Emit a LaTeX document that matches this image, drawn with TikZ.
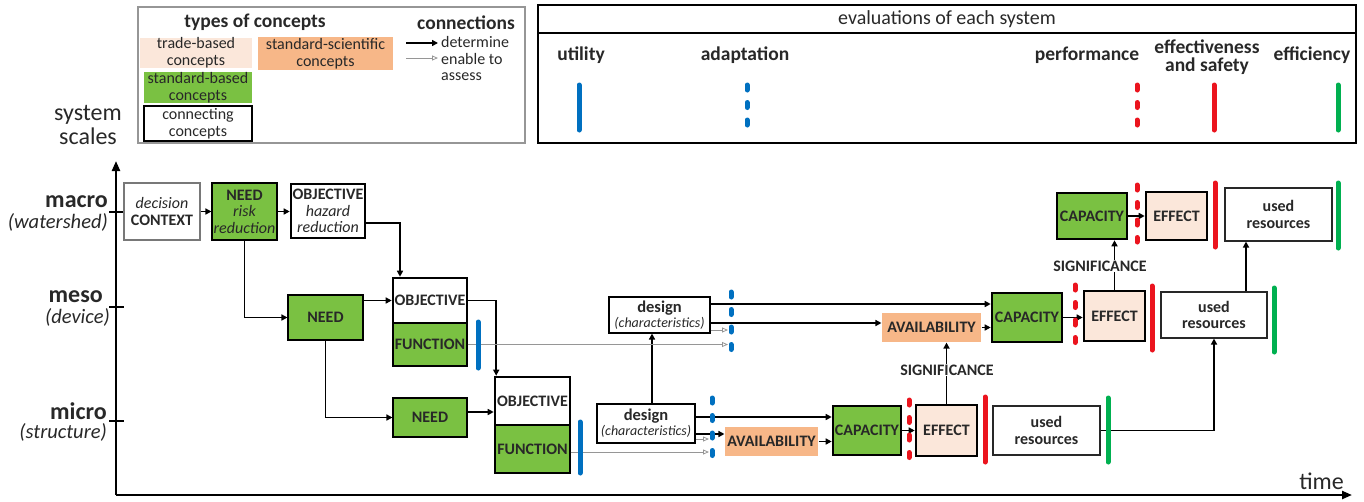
\documentclass[tikz,border=0pt]{standalone}
\usepackage{fontspec}
\setmainfont{Carlito}
\usetikzlibrary{arrows.meta,calc}
\definecolor{cgreen}{RGB}{122,193,66}
\definecolor{corange}{RGB}{247,183,136}
\definecolor{cpink}{RGB}{251,231,218}
\definecolor{cblue}{RGB}{0,112,192}
\definecolor{cred}{RGB}{235,20,30}
\definecolor{cgbar}{RGB}{0,176,80}
\definecolor{cgray}{RGB}{150,150,150}
\definecolor{ctext}{RGB}{40,40,40}
\begin{document}
\begin{tikzpicture}[x=1pt,y=-1pt,
  box/.style={draw=black, line width=1.1pt, inner sep=0pt, align=center, text=ctext,
    font=\fontsize{16}{16.5}\selectfont},
  thk/.style={line width=2.6pt},
  grn/.style={fill=cgreen},
  pnk/.style={fill=cpink},
  org/.style={fill=corange, draw=none},
  arr/.style={line width=1.8pt, -{Triangle[length=6pt,width=6pt]}},
  garr/.style={line width=0.8pt, draw=cgray, -{Triangle[open,length=6pt,width=5pt]}},
  axis/.style={line width=2.2pt, -{Triangle[length=10pt,width=8pt]}},
  sbar/.style={line width=5pt, line cap=round},
  dbar/.style={line width=5pt, line cap=round, dash pattern=on 5pt off 12.5pt},
  lgtxt/.style={inner sep=0pt, align=center, text=ctext, font=\fontsize{16}{17}\selectfont},
  sig/.style={fill=white, inner sep=1pt, text=ctext, font=\fontsize{16}{16}\selectfont\bfseries},
]
\useasboundingbox (0,0) rectangle (1364,501);

% ---------- legend ----------
\draw[draw=cgray, line width=1.3pt] (138,7) rectangle (525,143);
\node[lgtxt, font=\fontsize{19.5}{20}\selectfont\bfseries] (lgtitle) at (255,22) {types of concepts};
\node[lgtxt, font=\fontsize{19.5}{20}\selectfont\bfseries] (lgconn) at (466,23) {connections};
\node[lgtxt, fill=cpink, minimum width=112pt, minimum height=30pt] (lgtrade) at (196,53) {trade-based\\concepts};
\node[lgtxt, fill=cgreen, minimum width=108pt, minimum height=31pt] (lgstd) at (198,87.5) {standard-based\\concepts};
\node[lgtxt, draw=black, line width=1.1pt, minimum width=108pt, minimum height=35pt] (lgcon) at (198,123.5) {connecting\\concepts};
\node[lgtxt, fill=corange, minimum width=135pt, minimum height=33pt] (lgsci) at (325.5,53.5) {standard-scientific\\concepts};
\coordinate (la1) at (406,43);
\coordinate (la2) at (406,58);
\coordinate (la3) at (438,43);
\node[lgtxt, anchor=west, font=\fontsize{16}{15}\selectfont] (lgdet) at (441,42) {determine};
\node[lgtxt, anchor=west, align=left, font=\fontsize{16}{16.5}\selectfont] (lgena) at (441,67) {enable to\\assess};
\draw[arr] (la1) -- (la3);
\draw[garr] (la2) -- (la2 -| la3);

% ---------- evaluation box ----------
\draw[line width=1.3pt] (538,5) rectangle (1356,143);
\draw[line width=1.3pt] (538,33) -- (1356,33);
\node[lgtxt, font=\fontsize{20}{20}\selectfont] (evtitle) at (947,19) {evaluations of each system};
\tikzset{evl/.style={lgtxt, font=\fontsize{19.5}{18.5}\selectfont\bfseries}}
\node[evl] (evu) at (581,55) {utility};
\node[evl] (eva) at (745,55) {adaptation};
\node[evl] (evp) at (1087,55) {performance};
\node[evl] (eve) at (1207,57) {effectiveness\\and safety};
\node[evl] (evf) at (1312,55) {efficiency};
\draw[sbar, cblue] (579,85) -- (579,130);
\draw[dbar, cblue] (747,85) -- (747,130);
\draw[dbar, cred] (1137,85) -- (1137,130);
\draw[sbar, cred] (1214,85) -- (1214,130);
\draw[sbar, cgbar] (1338,85) -- (1338,130);

% ---------- axes ----------
\node[lgtxt, font=\fontsize{24}{24}\selectfont] (scales) at (88,125) {system\\scales};
\coordinate (orig) at (116,495);
\coordinate (ytop) at (116,161);
\coordinate (xend) at (1352,495);
\draw[axis] (orig) -- (ytop);
\draw[axis] (orig) -- (xend);
\node[lgtxt, font=\fontsize{24}{24}\selectfont, anchor=south east] (time) at (1344,490) {time};
\foreach \yy in {212, 307, 421}
  \draw[line width=2pt] (109,\yy) -- (124,\yy);
\tikzset{scl/.style={inner sep=0pt, anchor=east, text=ctext, font=\fontsize{24}{24}\selectfont\bfseries},
         scs/.style={inner sep=0pt, anchor=east, text=ctext, font=\fontsize{20.5}{20}\selectfont\itshape}}
\node[scl] (lmacro) at (108,202) {macro};
\node[scs] (lwater) at (108,222) {(watershed)};
\node[scl] (lmeso) at (103,297) {meso};
\node[scs] (ldev) at (110,317) {(device)};
\node[scl] (lmicro) at (107,411) {micro};
\node[scs] (lstruct) at (107,432) {(structure)};

% ---------- nodes ----------
\node[box, draw=cgray!80!black, minimum width=76pt, minimum height=57pt] (ctx) at (162,211.5) {\itshape decision\\\bfseries CONTEXT};
\node[box, grn, minimum width=65pt, minimum height=57pt] (needA) at (244.5,211.5) {\bfseries NEED\\\itshape risk\\\itshape reduction};
\node[box, thk, minimum width=74pt, minimum height=54pt] (objA) at (328,211) {\bfseries OBJECTIVE\\\itshape hazard\\\itshape reduction};

\node[box, grn, minimum width=75pt, minimum height=45pt] (needB) at (325.5,317.5) {\bfseries NEED};
\node[box, thk, minimum width=74pt, minimum height=45pt] (objB) at (430,300.5) {\bfseries OBJECTIVE};
\node[box, grn, minimum width=74pt, minimum height=43pt] (funB) at (430,344.5) {\bfseries FUNCTION};

\node[box, grn, minimum width=74pt, minimum height=39pt] (needC) at (430,417.5) {\bfseries NEED};
\node[box, thk, minimum width=75pt, minimum height=48pt] (objC) at (532.5,401) {\bfseries OBJECTIVE};
\node[box, grn, minimum width=75pt, minimum height=48pt] (funC) at (532.5,449) {\bfseries FUNCTION};

\node[box, minimum width=101pt, minimum height=36pt, font=\fontsize{16.5}{15}\selectfont] (desB) at (659.5,315) {\bfseries design\\\fontsize{14}{14}\selectfont\itshape (characteristics)};
\node[box, minimum width=98pt, minimum height=39pt, font=\fontsize{16.5}{15}\selectfont] (desC) at (646,423.5) {\bfseries design\\\fontsize{14}{14}\selectfont\itshape (characteristics)};

\node[box, org, minimum width=99pt, minimum height=29pt] (avB) at (931.5,327.5) {\bfseries AVAILABILITY};
\node[box, org, minimum width=93pt, minimum height=29pt] (avC) at (771.5,441.5) {\bfseries AVAILABILITY};

\node[box, thk, grn, minimum width=68pt, minimum height=49pt] (capC) at (867,430.5) {\bfseries CAPACITY};
\node[box, thk, pnk, minimum width=61pt, minimum height=51pt] (effC) at (946.5,430.5) {\bfseries EFFECT};
\node[box, draw=ctext, minimum width=107pt, minimum height=49pt] (urC) at (1046.5,430.5) {\bfseries used\\\bfseries resources};

\node[box, thk, grn, minimum width=70pt, minimum height=49pt] (capB) at (1027,317.5) {\bfseries CAPACITY};
\node[box, thk, pnk, minimum width=61pt, minimum height=50pt] (effB) at (1114.5,316) {\bfseries EFFECT};
\node[box, draw=ctext, minimum width=106pt, minimum height=46pt] (urB) at (1214,315) {\bfseries used\\\bfseries resources};

\node[box, thk, grn, minimum width=70pt, minimum height=46pt] (capA) at (1092,216) {\bfseries CAPACITY};
\node[box, thk, pnk, minimum width=61pt, minimum height=48pt] (effA) at (1176.5,216) {\bfseries EFFECT};
\node[box, draw=ctext, minimum width=107pt, minimum height=53pt] (urA) at (1278.5,214.5) {\bfseries used\\\bfseries resources};

% ---------- bar end coordinates ----------
\coordinate (bAB) at (731,292);
\coordinate (bAC) at (712,398);

% ---------- connectors ----------
\draw[arr] (ctx.east) -- (ctx.east -| needA.west);
\draw[arr] (needA.east) -- (needA.east -| objA.west);
\draw[arr] ([yshift=-12]objA.east) -| ([xshift=-30]objB.north);
\draw[arr] (needA.south) |- (needB.west);
\draw[arr] (needB.east |- objB.west) -- (objB.west);
\draw[arr] (objB.east) -| ([xshift=2.5]objC.north west);
\draw[arr] (needB.south) |- (needC.west);
\draw[arr] ([yshift=5.5]needC.east) -- ([yshift=5.5]needC.east -| objC.west);

\draw[arr] ([xshift=6]desC.north) -- ([xshift=6]desC.north |- desB.south);
\draw[arr] ([yshift=11]desB.east) -- ([yshift=11]desB.east -| capB.west);
\draw[arr] ([yshift=-8]desB.east) -- ([yshift=-8]desB.east -| avB.west);
\draw[garr, shorten >=3pt] ([yshift=-15]desB.east) -- ([yshift=-15]desB.east -| bAB);
\draw[garr, shorten >=3pt] (funB.east) -- (funB.east -| bAB);

\draw[arr] ([yshift=6.5]desC.east) -- ([yshift=6.5]desC.east -| capC.west);
\draw[arr] ([yshift=-10.5]desC.east) -- ([yshift=-10.5]desC.east -| avC.west);
\draw[garr, shorten >=3pt] ([yshift=-15.5]desC.east) -- ([yshift=-15.5]desC.east -| bAC);
\draw[garr, shorten >=3pt] ([yshift=-3]funC.east) -- ([yshift=-3]funC.east -| bAC);

\draw[arr] (avC.east) -- (avC.east -| capC.west);
\draw[arr] (capC.east) -- (capC.east -| effC.west);
\draw[arr] (effC.north) -- (effC.north |- avB.south);
\draw[arr] (avB.east) -- (avB.east -| capB.west);
\draw[arr] (capB.east) -- (capB.east -| effB.west);
\draw[arr] (effB.north) -- (effB.north |- capA.south);
\draw[arr] (capA.east) -- (capA.east -| effA.west);
\draw[arr] (urC.east) -| (urB.south);
\draw[arr] ([xshift=32]urB.north) -- ([xshift=32]urB.north |- urA.south);

\node[sig] (sig1) at (947,370) {SIGNIFICANCE};
\node[sig] (sig2) at (1100,266) {SIGNIFICANCE};

% ---------- evaluation bars ----------
\draw[sbar, cblue] (478,322) -- (478,368);
\draw[sbar, cblue] (580,422) -- (580,473);
\draw[dbar, cblue] (bAB) -- (731,350);
\draw[dbar, cblue] (bAC) -- (712,457);
\draw[dbar, cred] (909,400) -- (909,458);
\draw[dbar, cred] (1075,285) -- (1075,343);
\draw[dbar, cred] (1137,185) -- (1137,242);
\draw[sbar, cred] (985,397) -- (985,462);
\draw[sbar, cred] (1152,286) -- (1152,350);
\draw[sbar, cred] (1215,183) -- (1215,247);
\draw[sbar, cgbar] (1108,398) -- (1108,462);
\draw[sbar, cgbar] (1274,288) -- (1274,352);
\draw[sbar, cgbar] (1338,183) -- (1338,248);
\end{tikzpicture}
\end{document}
